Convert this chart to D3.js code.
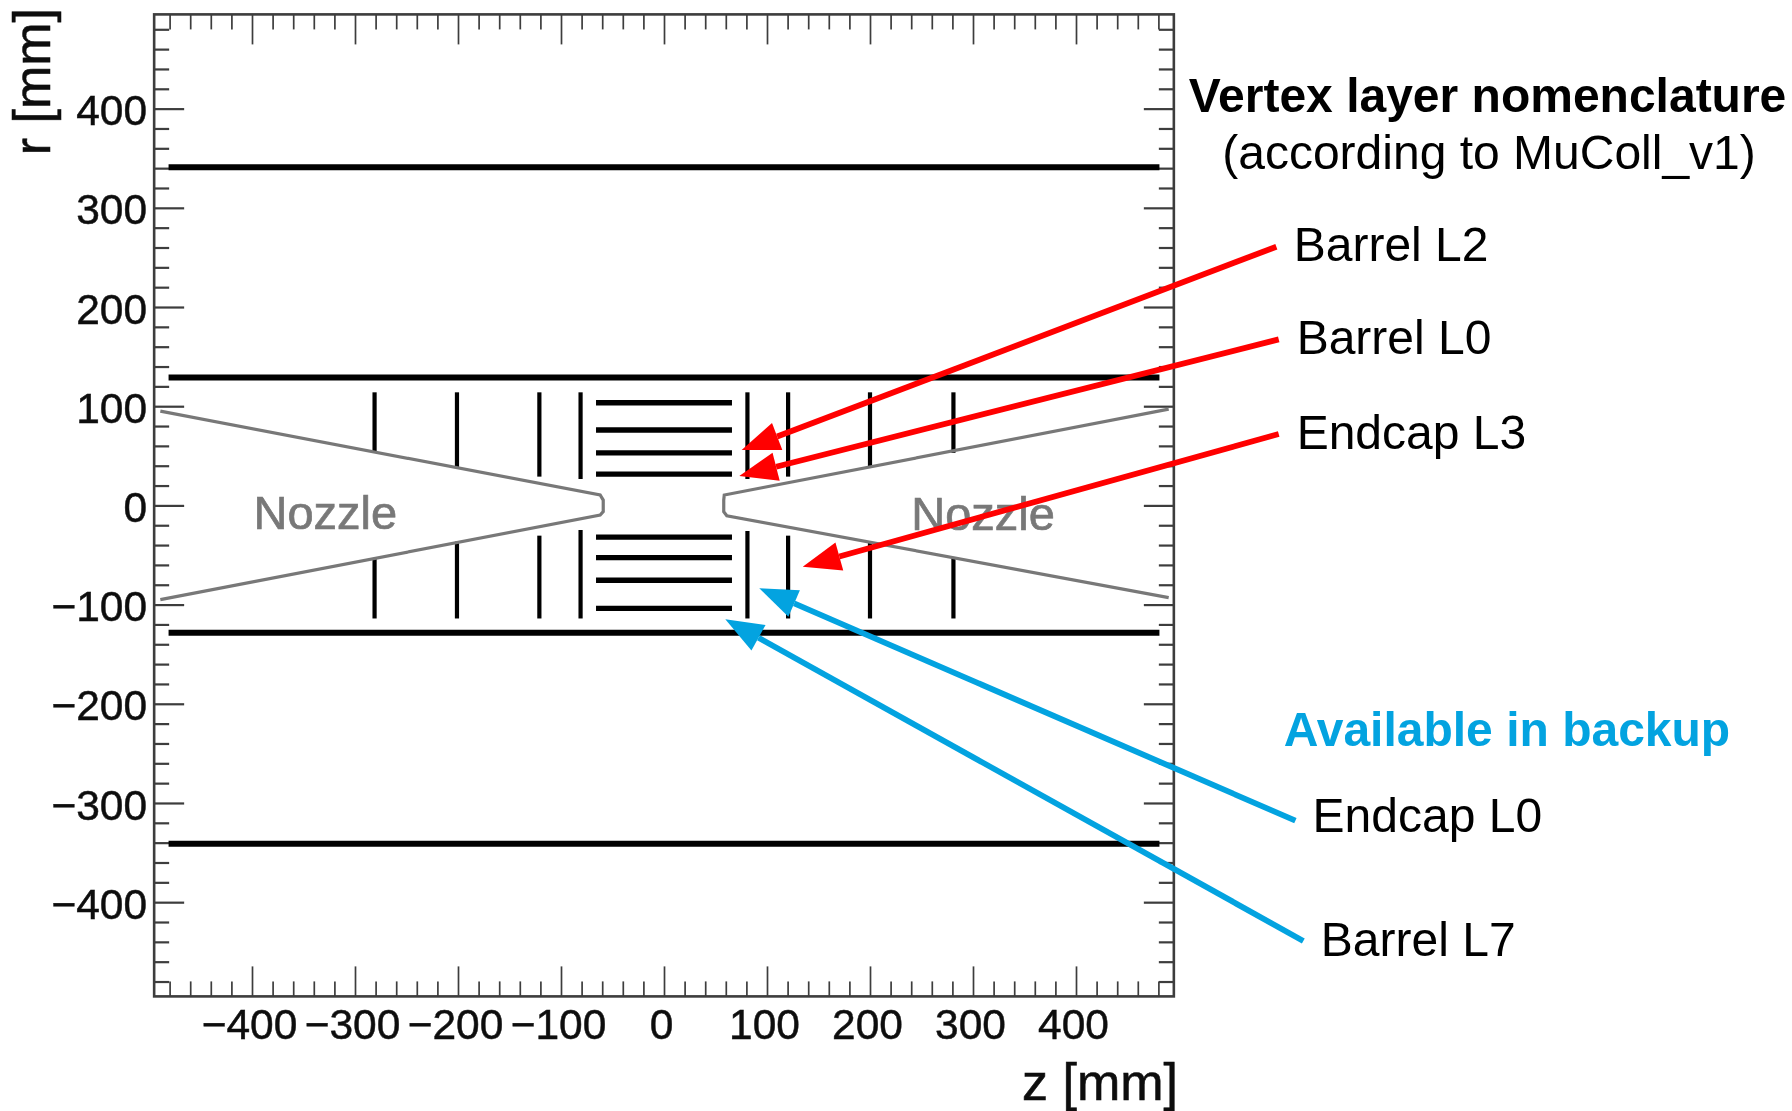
<!DOCTYPE html>
<html><head><meta charset="utf-8">
<script src="https://cdnjs.cloudflare.com/ajax/libs/d3/7.8.5/d3.min.js"></script>
<style>
html,body{margin:0;padding:0;background:#fff}
svg{display:block}
text{font-family:"Liberation Sans",Arial,Helvetica,sans-serif}
</style></head><body>
<svg id="c" width="1792" height="1111"></svg>
<script>
// axis
const axisExtent = [-495, 495];
const majorTicks = [-400,-300,-200,-100,0,100,200,300,400];
const minorTicks = [-480,-460,-440,-420,-380,-360,-340,-320,-280,-260,-240,-220,-180,-160,-140,-120,-80,-60,-40,-20,20,40,60,80,120,140,160,180,220,240,260,280,320,340,360,380,420,440,460,480];
// outer barrel envelopes: r, z half-length
const outerRadii = [341, 129, -128.5, -341];
const outerHalfLength = [481, 481, 481, 481];
// vertex barrel layers
const barrelRadii = [103.5, 76, 53, 31.5, -32, -52.7, -75.5, -103.8];
const barrelZRange = [-66, 66];
// endcap discs: z, rTop outer, rTop inner, rBottom inner, rBottom outer
const discZ      = [-281, -201, -121, -81, 81, 120.5, 200, 281];
const discOuter  = [114, 114, 114, 114, 114, 114, 114, 114];
const discInnerT = [53, 37.8, 29, 26.6, 26.6, 29, 37.8, 53];
const discInnerB = [-53, -36.5, -30.5, -24.8, -25.8, -30.5, -36.5, -53];
const discOuterB = [-114, -114, -114, -114, -114, -114, -114, -114];
// nozzle outlines
const nozzleLeftZ  = [-489, -62, -59, -59, -62, -489];
const nozzleLeftR  = [95, 10.5, 5.4, -6.3, -9.7, -95];
const nozzleRightZ = [490, 58.5, 58, 58, 61, 490];
const nozzleRightR = [97, 10.5, 5.4, -6.3, -10.4, -93];
// annotations
const arrowNames = ["Barrel L2","Barrel L0","Endcap L3","Endcap L0","Barrel L7"];
const arrowTailZ = [594.5, 596.8, 596.8, 613, 620.7];
const arrowTailR = [260.8, 167.4, 72, -317.8, -439.1];
const arrowTipZ  = [75.4, 73.1, 134.7, 92.5, 59.5];
const arrowTipR  = [55.8, 29.6, -61.8, -83.6, -114.8];
const arrowGroup = ["red","red","red","blue","blue"];
const labelZ = [611.4, 614.2, 614.2, 629.7, 637.7];
const labelR = [246.3, 153, 56.8, -329.2, -454.3];

const RED="#ff0000", BLUE="#03a3e0", AXIS="#3c3c3c", GREY="#787878";

const x = d3.scaleLinear().domain(axisExtent).range([154.15,1173.85]);
const y = d3.scaleLinear().domain([axisExtent[1],axisExtent[0]]).range([14.4,996.4]);
const root = d3.select("#c");
root.append("defs").append("filter").attr("id","soft").attr("filterUnits","userSpaceOnUse")
  .attr("x",0).attr("y",0).attr("width",1792).attr("height",1111)
  .append("feGaussianBlur").attr("stdDeviation",0.55);
const svg = root.append("g").attr("filter","url(#soft)");
const xL=x.range()[0], xR=x.range()[1], yT=y.range()[0], yB=y.range()[1];

function drawAxis(gen, tx, ty, vals, size, fmt, sw){
  const g = svg.append("g").attr("transform",`translate(${tx},${ty})`)
    .call(gen.tickValues(vals).tickSize(size).tickSizeOuter(0).tickFormat(fmt||""));
  g.select(".domain").remove();
  g.selectAll(".tick line").attr("stroke",AXIS).attr("stroke-width",sw);
  return g;
}
// minor & major ticks on all four sides
drawAxis(d3.axisTop(x),0,yB,minorTicks,15,null,1.7);
drawAxis(d3.axisTop(x),0,yB,majorTicks,30,null,1.7);
drawAxis(d3.axisBottom(x),0,yT,minorTicks,15,null,1.7);
drawAxis(d3.axisBottom(x),0,yT,majorTicks,30,null,1.7);
drawAxis(d3.axisRight(y),xL,0,minorTicks,15,null,2.2);
drawAxis(d3.axisRight(y),xL,0,majorTicks,30,null,2.2);
drawAxis(d3.axisLeft(y),xR,0,minorTicks,15,null,2.2);
drawAxis(d3.axisLeft(y),xR,0,majorTicks,30,null,2.2);
svg.append("rect").attr("x",xL).attr("y",yT).attr("width",xR-xL).attr("height",yB-yT)
  .attr("fill","none").attr("stroke",AXIS).attr("stroke-width",2.6);

// tick labels
const fmt = d3.format("d");
const gxl = svg.append("g").attr("transform",`translate(0,${yB})`)
  .call(d3.axisBottom(x).tickValues(majorTicks).tickSize(0).tickPadding(0).tickFormat(fmt));
gxl.select(".domain").remove();
gxl.selectAll("text").attr("font-size",42.5).attr("fill","#111").attr("stroke","#111").attr("stroke-width",0.5).attr("dy",null).attr("y",0)
  .attr("transform","translate(-3,43)").style("font-family",'"Liberation Sans"');
const gyl = svg.append("g").attr("transform",`translate(${xL},0)`)
  .call(d3.axisLeft(y).tickValues(majorTicks).tickSize(0).tickPadding(7).tickFormat(fmt));
gyl.select(".domain").remove();
gyl.selectAll("text").attr("font-size",42.5).attr("fill","#111").attr("stroke","#111").attr("stroke-width",0.5).attr("dy","0.38em").style("font-family",'"Liberation Sans"');

// axis titles
svg.append("text").attr("x",1178).attr("y",1100).attr("text-anchor","end").attr("font-size",52).attr("fill","#111").attr("stroke","#111").attr("stroke-width",0.6).text("z [mm]");
svg.append("text").attr("transform","translate(50,8) rotate(-90)").attr("text-anchor","end").attr("font-size",52).attr("fill","#111").attr("stroke","#111").attr("stroke-width",0.6).text("r [mm]");

// detector geometry
const seg = (a,b)=>d3.line()([a,b]);
const outer = outerRadii.map((r,i)=>({r,h:outerHalfLength[i]}));
svg.append("g").selectAll("path").data(outer).join("path")
  .attr("d",d=>seg([x(-d.h),y(d.r)],[x(d.h),y(d.r)])).attr("stroke","#000").attr("stroke-width",6);
svg.append("g").selectAll("path").data(barrelRadii).join("path")
  .attr("d",r=>seg([x(barrelZRange[0]),y(r)],[x(barrelZRange[1]),y(r)])).attr("stroke","#000").attr("stroke-width",5.4);
const discs = discZ.flatMap((z,i)=>[[z,discOuter[i],discInnerT[i]],[z,discInnerB[i],discOuterB[i]]]);
svg.append("g").selectAll("path").data(discs).join("path")
  .attr("d",d=>seg([x(d[0]),y(d[1])],[x(d[0]),y(d[2])])).attr("stroke","#000").attr("stroke-width",4.2);

// nozzle
const nz = d3.line().x(d=>x(d[0])).y(d=>y(d[1]));
[[nozzleLeftZ,nozzleLeftR],[nozzleRightZ,nozzleRightR]].forEach(([zs,rs])=>{
  svg.append("path").attr("d",nz(d3.zip(zs,rs))).attr("fill","none").attr("stroke",GREY).attr("stroke-width",3.2).attr("stroke-linejoin","miter");
});
svg.append("text").attr("x",x(-398.5)).attr("y",y(-23.4)).attr("font-size",47).attr("fill",GREY).attr("stroke",GREY).attr("stroke-width",0.7).text("Nozzle");
svg.append("text").attr("x",x(240)).attr("y",y(-24.8)).attr("font-size",47).attr("fill",GREY).attr("stroke",GREY).attr("stroke-width",0.7).text("Nozzle");

// arrows
const HEAD_L=38, HEAD_W=29;
arrowNames.forEach((name,i)=>{
  const c = arrowGroup[i]==="red"?RED:BLUE;
  const t=[x(arrowTailZ[i]),y(arrowTailR[i])], p=[x(arrowTipZ[i]),y(arrowTipR[i])];
  const dx=p[0]-t[0], dy=p[1]-t[1], L=Math.hypot(dx,dy), ux=dx/L, uy=dy/L;
  const b=[p[0]-ux*HEAD_L,p[1]-uy*HEAD_L];
  root.append("path").attr("d",seg(t,b)).attr("stroke",c).attr("stroke-width",5.8).attr("fill","none");
  root.append("path").attr("fill",c).attr("d",d3.line()([p,[b[0]-uy*HEAD_W/2,b[1]+ux*HEAD_W/2],[b[0]+uy*HEAD_W/2,b[1]-ux*HEAD_W/2]])+"Z");
  root.append("text").attr("x",x(labelZ[i])).attr("y",y(labelR[i])).attr("font-size",48).attr("fill","#000").text(name);
});

// titles
root.append("text").attr("x",1487.5).attr("y",112).attr("text-anchor","middle").attr("font-size",48).attr("font-weight","bold").attr("fill","#000").text("Vertex layer nomenclature");
root.append("text").attr("x",1489).attr("y",169).attr("text-anchor","middle").attr("font-size",48).attr("fill","#000").text("(according to MuColl_v1)");
root.append("text").attr("x",1507).attr("y",746).attr("text-anchor","middle").attr("font-size",48).attr("font-weight","bold").attr("fill",BLUE).text("Available in backup");
</script>
</body></html>
